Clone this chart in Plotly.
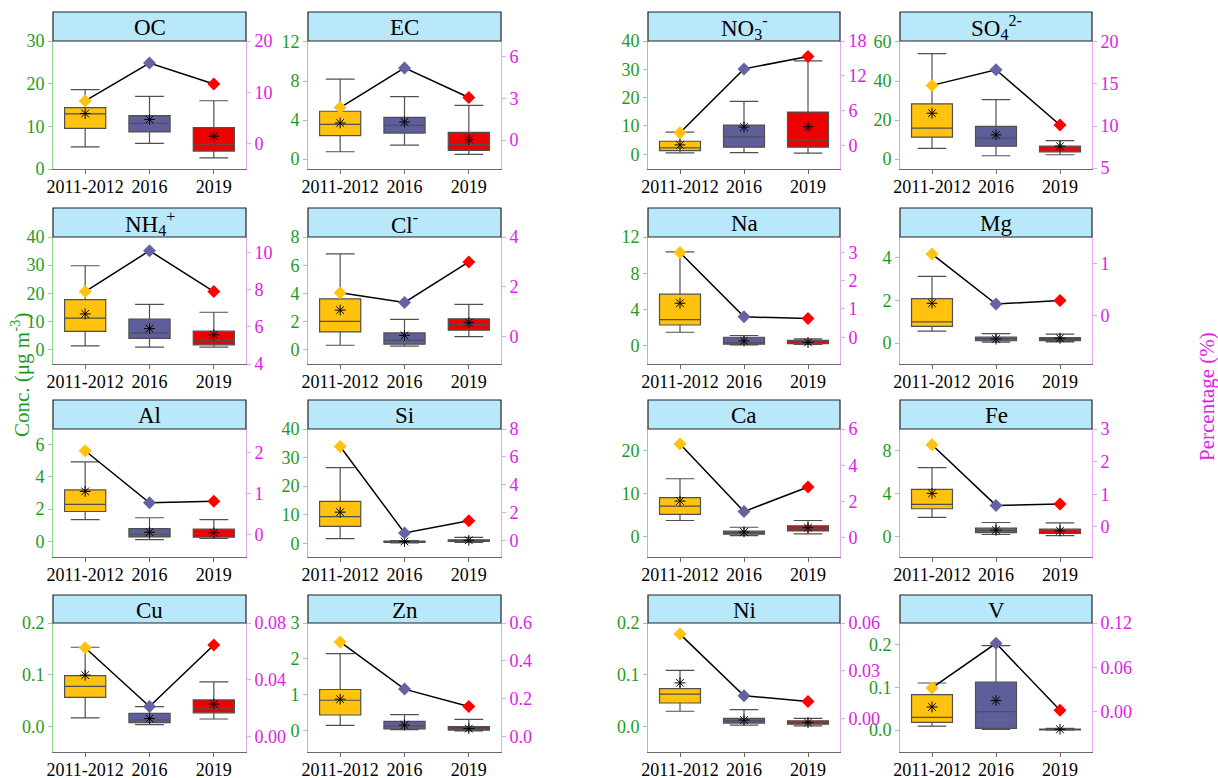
import plotly.graph_objects as go

# ---------------- data ----------------
categories = ["2011-2012", "2016", "2019"]

species = ["OC", "EC", "NO<sub>3</sub><sup>-</sup>", "SO<sub>4</sub><sup>2-</sup>",
           "NH<sub>4</sub><sup>+</sup>", "Cl<sup>-</sup>", "Na", "Mg",
           "Al", "Si", "Ca", "Fe",
           "Cu", "Zn", "Ni", "V"]

whisker_low = [
    [5.2, 6.0, 2.6], [0.75, 1.43, 0.48], [0.5, 0.6, 0.4], [5.45, 1.7, 2.2],
    [1.4, 0.94, 0.94], [0.33, 0.26, 0.94], [1.5, 0.1, 0.15], [0.56, 0.05, 0.06],
    [1.35, 0.1, 0.17], [1.64, 0.15, 0.35], [3.67, 0.16, 0.55], [1.75, 0.16, 0.06],
    [0.016, 0.003, 0.014], [0.15, 0.03, 0.0], [0.029, 0.002, 0.0006], [0.0095, 0.0016, 0.0],
]
quart1 = [
    [9.5, 8.7, 4.2], [2.4, 2.66, 0.89], [1.3, 2.5, 2.5], [11.2, 6.6, 3.7],
    [6.5, 4.0, 1.76], [1.27, 0.4, 1.39], [2.3, 0.18, 0.25], [0.79, 0.11, 0.12],
    [1.85, 0.27, 0.25], [5.9, 0.35, 0.7], [5.1, 0.47, 1.25], [2.56, 0.34, 0.25],
    [0.056, 0.007, 0.026], [0.44, 0.05, 0.02], [0.045, 0.006, 0.004], [0.018, 0.004, 0.0008],
]
medians = [
    [12.9, 10.7, 5.8], [3.55, 3.45, 1.5], [2.25, 6.15, 5.0], [15.8, 10.7, 4.8],
    [11.2, 6.0, 3.3], [2.02, 0.68, 1.79], [2.9, 0.37, 0.45], [1.0, 0.2, 0.2],
    [2.29, 0.42, 0.48], [9.3, 0.55, 0.95], [7.0, 0.86, 1.88], [2.97, 0.53, 0.47],
    [0.077, 0.012, 0.035], [0.85, 0.13, 0.056], [0.062, 0.0104, 0.0078], [0.030, 0.043, 0.0016],
]
quart3 = [
    [14.4, 12.5, 9.7], [4.9, 4.27, 2.73], [4.6, 10.3, 14.9], [28.3, 16.7, 6.6],
    [17.8, 10.9, 6.6], [3.62, 1.2, 2.2], [5.7, 0.95, 0.6], [2.09, 0.28, 0.26],
    [3.19, 0.79, 0.75], [14.7, 0.8, 1.2], [9.0, 1.17, 2.42], [4.37, 0.75, 0.66],
    [0.098, 0.025, 0.051], [1.15, 0.26, 0.12], [0.073, 0.015, 0.0104], [0.083, 0.112, 0.0024],
]
whisker_high = [
    [18.6, 17.0, 16.0], [8.2, 6.4, 5.5], [7.8, 18.7, 33.0], [54.0, 30.5, 9.4],
    [29.8, 16.1, 13.3], [6.8, 2.16, 3.22], [10.35, 1.14, 0.77], [3.13, 0.45, 0.42],
    [4.94, 1.46, 1.35], [26.5, 0.9, 2.1], [13.4, 2.1, 3.67], [6.4, 1.28, 1.25],
    [0.153, 0.038, 0.086], [2.15, 0.45, 0.32], [0.108, 0.032, 0.015], [0.11, 0.197, 0.004],
]
means = [
    [13.0, 11.6, 7.7], [3.7, 3.8, 2.0], [3.3, 9.6, 9.7], [23.5, 12.4, 6.6],
    [12.7, 7.5, 5.3], [2.82, 1.03, 1.93], [4.7, 0.55, 0.37], [1.87, 0.19, 0.23],
    [3.1, 0.56, 0.52], [10.9, 0.6, 1.05], [8.2, 1.0, 2.0], [4.0, 0.56, 0.5],
    [0.099, 0.015, 0.043], [0.88, 0.16, 0.06], [0.084, 0.012, 0.007], [0.054, 0.069, 0.002],
]
percentage = [
    [8.3, 15.7, 11.6], [2.33, 5.17, 3.05], [2.2, 13.2, 15.35], [14.83, 16.68, 10.13],
    [7.9, 10.1, 7.9], [1.76, 1.37, 3.0], [3.0, 0.72, 0.66], [1.19, 0.22, 0.29],
    [2.04, 0.77, 0.81], [6.75, 0.55, 1.42], [5.17, 1.44, 2.8], [2.52, 0.66, 0.7],
    [0.0626, 0.0214, 0.0645], [0.50, 0.25, 0.158], [0.053, 0.0142, 0.0106], [0.0324, 0.0926, 0.0023],
]

# tick labels (left = concentration, right = percentage)
conc_ticks = [
    ["0", "10", "20", "30"], ["0", "4", "8", "12"], ["0", "10", "20", "30", "40"], ["0", "20", "40", "60"],
    ["0", "10", "20", "30", "40"], ["0", "2", "4", "6", "8"], ["0", "4", "8", "12"], ["0", "2", "4"],
    ["0", "2", "4", "6"], ["0", "10", "20", "30", "40"], ["0", "10", "20"], ["0", "4", "8"],
    ["0.0", "0.1", "0.2"], ["0", "1", "2", "3"], ["0.0", "0.1", "0.2"], ["0.0", "0.1", "0.2"],
]
pct_ticks = [
    ["0", "10", "20"], ["0", "3", "6"], ["0", "6", "12", "18"], ["5", "10", "15", "20"],
    ["4", "6", "8", "10"], ["0", "2", "4"], ["0", "1", "2", "3"], ["0", "1"],
    ["0", "1", "2"], ["0", "2", "4", "6", "8"], ["0", "2", "4", "6"], ["0", "1", "2", "3"],
    ["0.00", "0.04", "0.08"], ["0.0", "0.2", "0.4", "0.6"], ["0.00", "0.03", "0.06"], ["0.00", "0.06", "0.12"],
]

# axis ranges
conc_range = [
    [0, 30], [-1.02, 12.1], [-5.2, 40], [-5.1, 60.5],
    [-5.06, 40], [-1.0, 8], [-2.0, 12], [-0.98, 4.98],
    [-0.98, 6.98], [-4.8, 40], [-4.84, 25], [-1.94, 10],
    [-0.05, 0.2], [-0.59, 3], [-0.05, 0.2], [-0.051, 0.25],
]
pct_range = [
    [-5, 20], [-2.07, 7.1], [-4.04, 18], [4.9, 20.1],
    [4, 10.84], [-1.1, 4], [-0.95, 3.55], [-0.94, 1.52],
    [-0.55, 2.57], [-1.18, 8], [-1.07, 6], [-0.92, 3],
    [-0.0106, 0.08], [-0.083, 0.6], [-0.0213, 0.06], [-0.054, 0.12],
]

# ---------------- style ----------------
W, H = 1218, 778
box_colors = ["#FFC20E", "#5E5E9A", "#EE0000"]
dia_colors = ["#FFC20E", "#6464A4", "#FF0000"]
GREEN = "#1E9A1E"
GREEN_LINE = "#8ED68E"
MAG = "#E020E8"
MAG_LINE = "#E8A6F4"
FONT = "Liberation Serif"

col_px = [(53, 246), (308, 501), (648, 840), (900, 1092)]
row_px = [(12, 41, 169), (208, 237, 364), (400, 429, 557), (595, 623, 752)]


def px_x(v):
    return v / W


def px_y(v):
    return 1 - v / H


fig = go.Figure()
layout = {}
shapes = []
annotations = []

for i in range(16):
    r, c = divmod(i, 4)
    n = i + 1
    m = 17 + i
    xname = "x" if n == 1 else f"x{n}"
    yname = "y" if n == 1 else f"y{n}"
    y2name = f"y{m}"
    xkey = "xaxis" if n == 1 else f"xaxis{n}"
    ykey = "yaxis" if n == 1 else f"yaxis{n}"
    y2key = f"yaxis{m}"

    x0, x1 = col_px[c]
    tt, pt, pb = row_px[r]

    for k, cat in enumerate(categories):
        fig.add_trace(go.Box(
            x=[cat], q1=[quart1[i][k]], median=[medians[i][k]], q3=[quart3[i][k]],
            lowerfence=[whisker_low[i][k]], upperfence=[whisker_high[i][k]],
            fillcolor=box_colors[k], line=dict(color="#505050", width=1.2),
            width=0.64, whiskerwidth=0.7, boxpoints=False, showlegend=False,
            hoverinfo="skip", xaxis=xname, yaxis=yname,
        ))
    fig.add_trace(go.Scatter(
        x=categories, y=means[i], mode="markers",
        marker=dict(symbol="asterisk-open", size=9, color="black",
                    line=dict(color="black", width=1)),
        showlegend=False, hoverinfo="skip", xaxis=xname, yaxis=yname,
    ))
    fig.add_trace(go.Scatter(
        x=categories, y=percentage[i], mode="lines+markers",
        line=dict(color="black", width=1.5),
        marker=dict(symbol="diamond", size=10, color=dia_colors, line=dict(width=0)),
        showlegend=False, hoverinfo="skip", xaxis=xname, yaxis=y2name,
    ))

    layout[xkey] = dict(
        domain=[px_x(x0), px_x(x1)], anchor=yname, type="category",
        categoryorder="array", categoryarray=categories, range=[-0.5, 2.5],
        showline=True, linecolor="#6a6a6a", linewidth=1,
        ticks="outside", ticklen=4, tickcolor="#6a6a6a", ticklabelstandoff=-3,
        tickfont=dict(family=FONT, size=18, color="black"),
        showgrid=False, zeroline=False, fixedrange=True, automargin=False,
    )
    layout[ykey] = dict(
        domain=[px_y(pb), px_y(pt)], anchor=xname, range=conc_range[i],
        tickmode="array", tickvals=[float(t) for t in conc_ticks[i]], ticktext=conc_ticks[i],
        showline=True, linecolor=GREEN_LINE, linewidth=1,
        ticks="outside", ticklen=4, tickcolor=GREEN_LINE,
        tickfont=dict(family=FONT, size=18, color=GREEN),
        showgrid=False, zeroline=False, fixedrange=True, automargin=False,
    )
    layout[y2key] = dict(
        overlaying=yname, side="right", anchor=xname, range=pct_range[i],
        tickmode="array", tickvals=[float(t) for t in pct_ticks[i]], ticktext=pct_ticks[i],
        showline=True, linecolor=MAG_LINE, linewidth=1,
        ticks="outside", ticklen=4, tickcolor=MAG_LINE,
        tickfont=dict(family=FONT, size=18, color=MAG),
        showgrid=False, zeroline=False, fixedrange=True, automargin=False,
    )

    shapes.append(dict(
        type="rect", xref="paper", yref="paper",
        x0=px_x(x0), x1=px_x(x1), y0=px_y(pt), y1=px_y(tt),
        fillcolor="#B9E8FB", line=dict(color="#222222", width=1.2), layer="above",
    ))
    annotations.append(dict(
        text=species[i], xref="paper", yref="paper",
        x=px_x((x0 + x1) / 2), y=px_y((tt + pt) / 2 + 1),
        xanchor="center", yanchor="middle", showarrow=False,
        font=dict(family=FONT, size=23, color="black"),
    ))

annotations.append(dict(
    text="Conc. (μg m<sup>-3</sup>)", xref="paper", yref="paper",
    x=px_x(21), y=px_y(375), textangle=-90, showarrow=False,
    xanchor="center", yanchor="middle",
    font=dict(family=FONT, size=21, color=GREEN),
))
annotations.append(dict(
    text="Percentage (%)", xref="paper", yref="paper",
    x=px_x(1207), y=px_y(397), textangle=-90, showarrow=False,
    xanchor="center", yanchor="middle",
    font=dict(family=FONT, size=21, color=MAG),
))

fig.update_layout(
    width=W, height=H, margin=dict(l=0, r=0, t=0, b=0, autoexpand=False),
    paper_bgcolor="white", plot_bgcolor="white",
    boxmode="overlay", shapes=shapes, annotations=annotations,
    **layout,
)

fig.write_html(
    "out.html",
    config={"displayModeBar": False},
    post_script="document.body.style.margin='0px';document.body.style.overflow='hidden';",
)
